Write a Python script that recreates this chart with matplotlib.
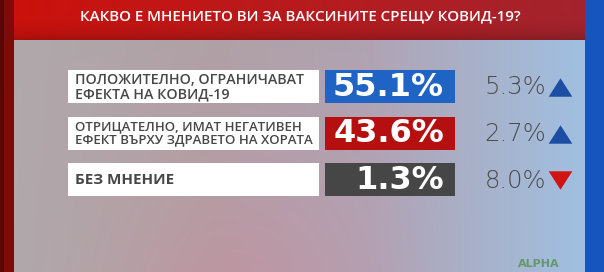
import numpy as np
import matplotlib
matplotlib.use("Agg")
import matplotlib.pyplot as plt
from matplotlib.path import Path

title = "КАКВО Е МНЕНИЕТО ВИ ЗА ВАКСИНИТЕ СРЕЩУ КОВИД-19?"
categories = [
    "ПОЛОЖИТЕЛНО, ОГРАНИЧАВАТ\nЕФЕКТА НА КОВИД-19",
    "ОТРИЦАТЕЛНО, ИМАТ НЕГАТИВЕН\nЕФЕКТ ВЪРХУ ЗДРАВЕТО НА ХОРАТА",
    "БЕЗ МНЕНИЕ",
]
values = [55.1, 43.6, 1.3]
changes = [5.3, 2.7, 8.0]
directions = ["up", "up", "down"]

box_colors = ["#1f63c4", "#b5100f", "#464646"]
arrow_colors = {"up": "#1c4fa3", "down": "#d01414"}
label_sizes = [10.3, 9.5, 10.9]
label_weights = ["semibold", "semibold", "bold"]

W, H = 604, 272
fig = plt.figure(figsize=(W / 100, H / 100), dpi=100)
ax = fig.add_axes([0, 0, 1, 1])
ax.set_xlim(0, W)
ax.set_ylim(H, 0)
ax.axis("off")

# panel background: grey -> pink -> light blue
nx, ny = 200, 60
xs = np.linspace(0, 1, nx)
ys = np.linspace(0, 1, ny)
stops = np.array([0.0, 0.35, 0.62, 1.0])
cols = np.array([
    [0.69, 0.66, 0.67],
    [0.69, 0.63, 0.65],
    [0.69, 0.64, 0.70],
    [0.63, 0.75, 0.88],
])
base = np.stack([np.interp(xs, stops, cols[:, c]) for c in range(3)], axis=-1)
img = np.repeat(base[None, :, :], ny, axis=0)
pink = np.exp(-((xs[None, :] - 0.4) ** 2) / 0.05) * ys[:, None] ** 1.5
img[..., 0] += 0.05 * pink
img[..., 1] -= 0.04 * pink
img[..., 2] -= 0.02 * pink
img = np.clip(img, 0, 1)
ax.imshow(img, extent=[14, 585, H, 40], aspect="auto", zorder=0, interpolation="bilinear")

# title banner
bx = np.linspace(0, 1, 200)
by = np.linspace(0, 1, 40)
red_l = np.array([0.80, 0.07, 0.05])
red_r = np.array([0.64, 0.14, 0.18])
banner = red_l[None, None, :] * (1 - bx[None, :, None]) + red_r[None, None, :] * bx[None, :, None]
banner = banner * (1 - 0.18 * by[:, None, None] ** 4)
ax.imshow(banner, extent=[14, 585, 40, 0], aspect="auto", zorder=1, interpolation="bilinear")

# side strips
ax.add_patch(plt.Rectangle((0, 0), 14, H, color="#7e0a0a", zorder=1, lw=0))
ax.add_patch(plt.Rectangle((0, 0), 4, H, color="#5a0606", zorder=1, lw=0))
ax.add_patch(plt.Rectangle((585, 0), W - 585, H, color="#1655bd", zorder=1, lw=0))

ax.text(300, 16, title, color="white", fontsize=10.9, fontfamily="Open Sans",
        fontweight="semibold", ha="center", va="center", zorder=3)

rows = np.array([86.5, 133.0, 179.5])
bh = 33

# label boxes
ax.barh(rows, [251] * 3, left=68, height=bh, color="white", zorder=2, lw=0)
# value boxes
ax.barh(rows, [130] * 3, left=325, height=bh, color=box_colors, zorder=2, lw=0)

# wide, flat triangles for the change markers
tri_up = Path([(-1, -0.78), (1, -0.78), (0, 0.78), (-1, -0.78)],
              [Path.MOVETO, Path.LINETO, Path.LINETO, Path.CLOSEPOLY])
tri_down = Path([(-1, 0.78), (1, 0.78), (0, -0.78), (-1, 0.78)],
                [Path.MOVETO, Path.LINETO, Path.LINETO, Path.CLOSEPOLY])

for y, cat, v, ch, d, fs, fw in zip(rows, categories, values, changes, directions,
                                     label_sizes, label_weights):
    ax.text(75, y + 0.5, cat, color="#474747", fontsize=fs, fontfamily="Open Sans",
            fontweight=fw, ha="left", va="center", linespacing=1.0, zorder=3)
    ax.text(444, y + 1, f"{v:.1f}%", color="white", fontsize=23, fontfamily="DejaVu Sans",
            fontweight="bold", ha="right", va="center", zorder=3)
    ax.text(546, y + 1, f"{ch:.1f}%", color="#4c4c4c", fontsize=17.5, fontfamily="DejaVu Sans",
            fontweight="light", ha="right", va="center", zorder=3)
    ax.scatter([559.5], [y + 0.5], marker=tri_up if d == "up" else tri_down,
               s=290, color=arrow_colors[d], zorder=3, lw=0)

ax.text(518, 264, "ALPHA", color="#4a8a3a", fontsize=8, fontweight="bold",
        ha="left", va="center", zorder=3, alpha=0.7)

fig.savefig("out.png", dpi=100)
